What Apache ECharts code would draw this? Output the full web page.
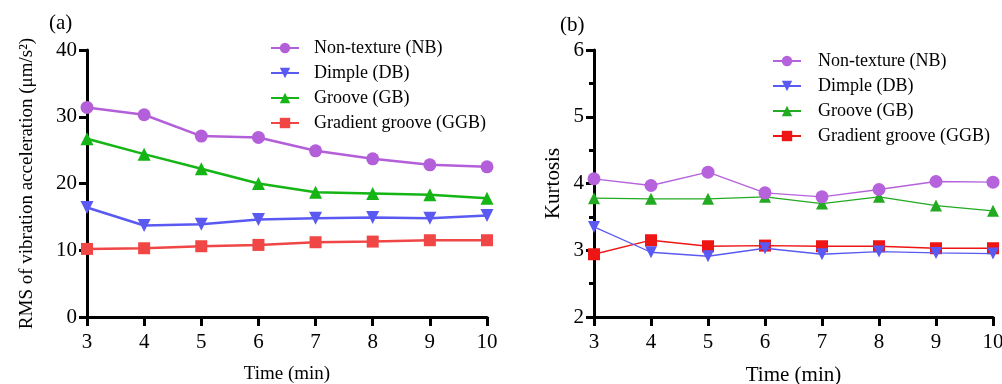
<!DOCTYPE html>
<html>
<head>
<meta charset="utf-8">
<script src="https://cdn.jsdelivr.net/npm/echarts@6/dist/echarts.min.js"></script>
<style>
html,body{margin:0;padding:0;background:#fff;}
#c{width:1002px;height:384px;}
</style>
</head>
<body>
<div id="c"></div>
<script>
const times = [3, 4, 5, 6, 7, 8, 9, 10];
const seriesNames = ['Non-texture (NB)', 'Dimple (DB)', 'Groove (GB)', 'Gradient groove (GGB)'];

// (a) RMS of vibration acceleration
const rmsNB  = [31.4, 30.3, 27.1, 26.9, 24.9, 23.7, 22.8, 22.5];
const rmsDB  = [16.4, 13.7, 13.9, 14.6, 14.8, 14.9, 14.8, 15.2];
const rmsGB  = [26.7, 24.4, 22.2, 20.0, 18.7, 18.5, 18.3, 17.8];
const rmsGGB = [10.2, 10.3, 10.6, 10.8, 11.2, 11.3, 11.5, 11.5];

// (b) Kurtosis
const kurNB  = [4.07, 3.97, 4.17, 3.86, 3.80, 3.91, 4.03, 4.02];
const kurDB  = [3.35, 2.97, 2.91, 3.03, 2.94, 2.98, 2.96, 2.95];
const kurGB  = [3.78, 3.77, 3.77, 3.80, 3.70, 3.80, 3.67, 3.59];
const kurGGB = [2.94, 3.15, 3.06, 3.07, 3.06, 3.06, 3.03, 3.03];

const FONT = '"Liberation Serif", "DejaVu Serif", serif';
const colorsA = ['#b35fd9', '#5a5af2', '#14b514', '#f04646'];
const colorsB = ['#b562dc', '#5a5af2', '#22aa22', '#ee1515'];
const symbols = ['circle', 'triangle', 'triangle', 'rect'];
const symbolRot = [0, 180, 0, 0];

function pairs(v) { return times.map((t, i) => [t, v[i]]); }

const dataA = [rmsNB, rmsDB, rmsGB, rmsGGB];
const dataB = [kurNB, kurDB, kurGB, kurGGB];

function xAxis(gridIndex) {
  return {
    type: 'value', gridIndex, min: 3, max: 10, interval: 1,
    name: 'Time (min)', nameLocation: 'middle', nameGap: 48,
    nameTextStyle: { fontFamily: FONT, fontSize: gridIndex === 0 ? 19 : 21, color: '#000' },
    axisLine: { show: true, onZero: false, lineStyle: { color: '#000', width: 3 } },
    axisTick: { show: true, inside: false, length: 9, lineStyle: { color: '#000', width: 3 } },
    axisLabel: { fontFamily: FONT, fontSize: 21, color: '#000', margin: 15 },
    splitLine: { show: false }
  };
}

const option = {
  animation: false,
  backgroundColor: '#fff',
  grid: [
    { left: 87, right: 515, top: 50, bottom: 67, containLabel: false, outerBoundsMode: 'none' },
    { left: 594, right: 9, top: 50, bottom: 67, containLabel: false, outerBoundsMode: 'none' }
  ],
  xAxis: [xAxis(0), xAxis(1)],
  yAxis: [
    {
      type: 'value', gridIndex: 0, min: 0, max: 40, interval: 10,
      name: 'RMS of vibration acceleration (μm/s²)', nameLocation: 'middle', nameGap: 50,
      nameTextStyle: { fontFamily: FONT, fontSize: 19, color: '#000' },
      axisLine: { show: true, onZero: false, lineStyle: { color: '#000', width: 3 } },
      axisTick: { show: true, inside: false, length: 8, lineStyle: { color: '#000', width: 3 } },
      axisLabel: { fontFamily: FONT, fontSize: 21, color: '#000', margin: 10 },
      splitLine: { show: false }
    },
    {
      type: 'value', gridIndex: 1, min: 2, max: 6, interval: 1,
      name: 'Kurtosis', nameLocation: 'middle', nameGap: 30,
      nameTextStyle: { fontFamily: FONT, fontSize: 21, color: '#000' },
      axisLine: { show: true, onZero: false, lineStyle: { color: '#000', width: 3 } },
      axisTick: { show: true, inside: false, length: 8, lineStyle: { color: '#000', width: 3 } },
      minorTick: { show: true, splitNumber: 2, length: 5, lineStyle: { color: '#000', width: 3 } },
      axisLabel: { fontFamily: FONT, fontSize: 21, color: '#000', margin: 10 },
      splitLine: { show: false }
    }
  ],
  legend: [
    {
      left: 265, top: 34, orient: 'vertical', itemWidth: 28, itemHeight: 13, itemGap: 7,
      data: seriesNames.map(n => n + ' '),
      textStyle: { fontFamily: FONT, fontSize: 18, color: '#000', padding: [0, 0, 0, 10] }
    },
    {
      left: 767, top: 47, orient: 'vertical', itemWidth: 28, itemHeight: 13, itemGap: 7,
      data: seriesNames,
      textStyle: { fontFamily: FONT, fontSize: 18, color: '#000', padding: [0, 0, 0, 12] }
    }
  ],
  graphic: [
    { type: 'text', left: 49, top: 13, style: { text: '(a)', font: '21px ' + FONT, fill: '#000' } },
    { type: 'text', left: 560, top: 15, style: { text: '(b)', font: '21px ' + FONT, fill: '#000' } }
  ],
  series: []
};

seriesNames.forEach((n, i) => {
  option.series.push({
    name: n + ' ', type: 'line', xAxisIndex: 0, yAxisIndex: 0,
    data: pairs(dataA[i]), symbol: symbols[i], symbolRotate: symbolRot[i],
    symbolSize: i === 3 ? 12 : 13,
    lineStyle: { color: colorsA[i], width: 2.5 },
    itemStyle: { color: colorsA[i] }, z: 10 - i
  });
});
seriesNames.forEach((n, i) => {
  option.series.push({
    name: n, type: 'line', xAxisIndex: 1, yAxisIndex: 1,
    data: pairs(dataB[i]), symbol: symbols[i], symbolRotate: symbolRot[i],
    symbolSize: i === 3 ? 12 : (i === 0 ? 13 : 12),
    lineStyle: { color: colorsB[i], width: 1.3 },
    itemStyle: { color: colorsB[i] }, z: 10 - i
  });
});

const chart = echarts.init(document.getElementById('c'), null, { renderer: 'canvas' });
chart.setOption(option);
</script>
</body>
</html>
